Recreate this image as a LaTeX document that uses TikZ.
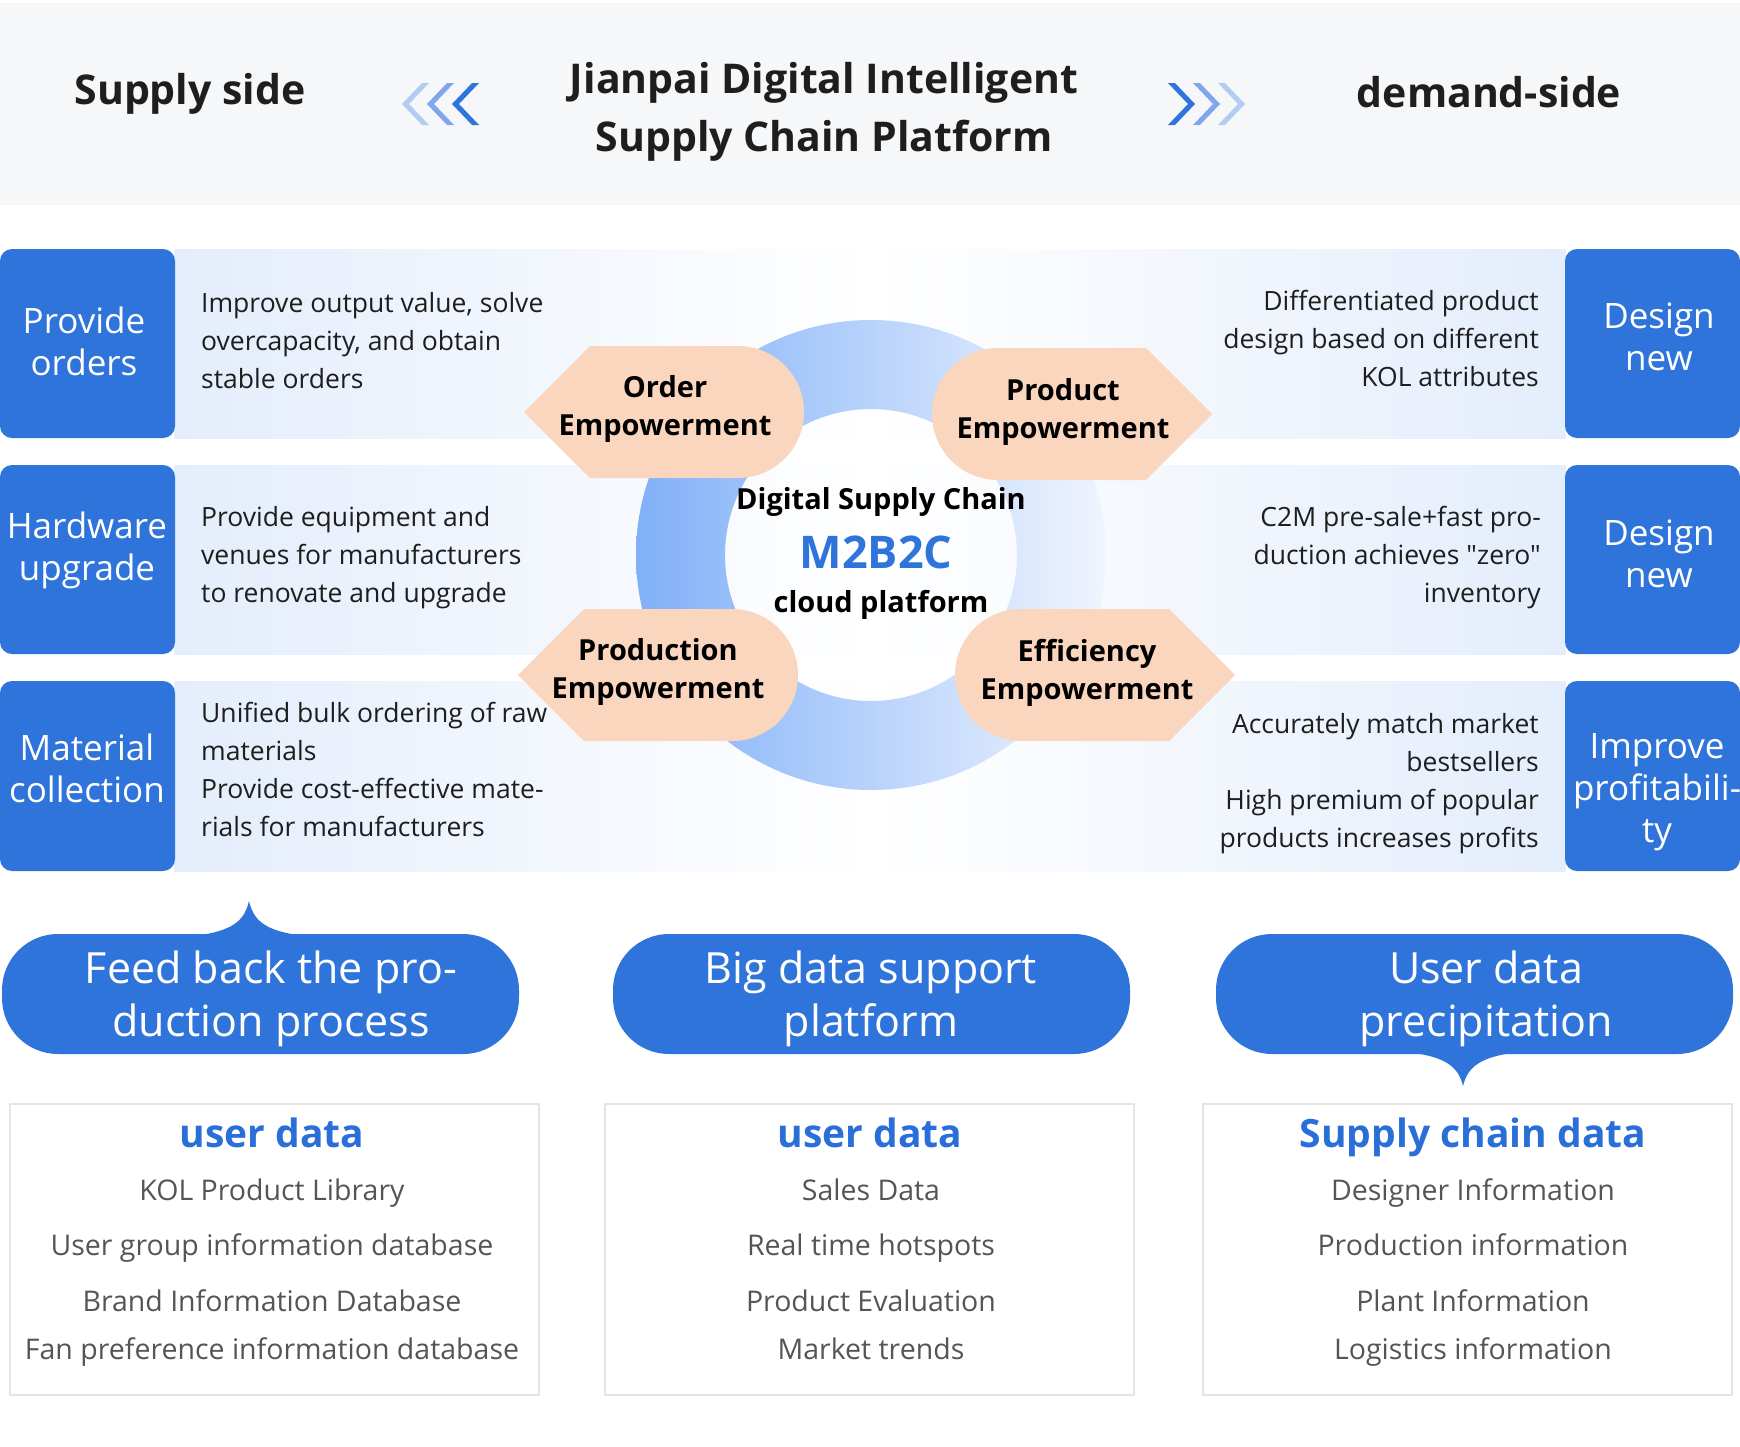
\documentclass[tikz,border=0pt]{standalone}
\usepackage{fontspec}
\setmainfont{Open Sans}
\newfontfamily\plainquote{Open Sans}[Ligatures=TeXOff]
\usepackage{tikz}
\usetikzlibrary{arrows.meta,positioning,calc}
\definecolor{BoxBlue}{RGB}{47,116,219}
\definecolor{HeadBlue}{RGB}{42,110,216}
\definecolor{RingBlue}{RGB}{128,176,248}
\definecolor{RingPale}{RGB}{240,245,254}
\definecolor{PeachColor}{RGB}{251,214,190}
\definecolor{BandColor}{RGB}{228,237,251}
\definecolor{HeaderGray}{RGB}{246,247,249}
\definecolor{DarkText}{RGB}{30,30,30}
\definecolor{ItemGray}{RGB}{85,85,85}
\definecolor{BorderGray}{RGB}{228,228,228}
\definecolor{ChevPale}{RGB}{178,204,244}
\definecolor{ChevMid}{RGB}{128,166,236}
\tikzset{
  sidebox/.style={fill=BoxBlue, rounded corners=12pt},
  sidetext/.style={text=white, align=center, font=\fontsize{35}{42}\selectfont},
  desctext/.style={text=DarkText, inner sep=0pt, font=\fontsize{26.5}{38}\selectfont},
  headtext/.style={text=DarkText, align=center, font=\bfseries\fontsize{41}{58}\selectfont},
  emptext/.style={text=black, align=center, font=\bfseries\fontsize{29}{38}\selectfont},
  emptyshape/.style={fill=PeachColor},
  bubble/.style={fill=BoxBlue, rounded corners=56pt},
  bubbletext/.style={text=white, align=center, font=\fontsize{43}{53}\selectfont},
  databox/.style={draw=BorderGray, line width=2pt},
  datahead/.style={text=HeadBlue, anchor=base, font=\bfseries\fontsize{39}{44}\selectfont},
  dataitem/.style={text=ItemGray, anchor=base, font=\fontsize{28.5}{32}\selectfont},
}

\begin{document}
\begin{tikzpicture}[x=1pt, y=-1pt]
      \useasboundingbox (0,0) rectangle (1740,1446);
      \fill[white] (0,0) rectangle (1740,1446);
      \fill[HeaderGray] (0,3) rectangle (1740,205);

      \node[headtext] (sup) at (190,94) {Supply side};
      \node[headtext] (ttl) at (824,112) {Jianpai Digital Intelligent\\Supply Chain Platform};
      \node[headtext] (dem) at (1489,92) {demand-side};

      \fill[ChevPale] (402,104) -- (422,83) -- (429,83) -- (409,104) -- (429,125) -- (422,125) -- cycle;
      \fill[ChevMid] (427,104) -- (447,83) -- (454,83) -- (434,104) -- (454,125) -- (447,125) -- cycle;
      \fill[BoxBlue] (452,104) -- (472,83) -- (479,83) -- (459,104) -- (479,125) -- (472,125) -- cycle;
      \fill[BoxBlue] (1195,104) -- (1175,83) -- (1168,83) -- (1188,104) -- (1168,125) -- (1175,125) -- cycle;
      \fill[ChevMid] (1220,104) -- (1200,83) -- (1193,83) -- (1213,104) -- (1193,125) -- (1200,125) -- cycle;
      \fill[ChevPale] (1245,104) -- (1225,83) -- (1218,83) -- (1238,104) -- (1218,125) -- (1225,125) -- cycle;

      \shade[left color=BandColor, right color=white] (174,249) rectangle (871,438);
      \shade[left color=BandColor, right color=white] (174,465) rectangle (871,654);
      \shade[left color=BandColor, right color=white] (174,681) rectangle (871,871);
      \shade[left color=white, right color=BandColor] (871,249) rectangle (1566,438);
      \shade[left color=white, right color=BandColor] (871,465) rectangle (1566,654);
      \shade[left color=white, right color=BandColor] (871,681) rectangle (1566,871);

      \fill[sidebox] (0,249) rectangle (175,438);
      \fill[sidebox] (0,465) rectangle (175,654);
      \fill[sidebox] (0,681) rectangle (175,871);
      \fill[sidebox] (1565,249) rectangle (1740,438);
      \fill[sidebox] (1565,465) rectangle (1740,654);
      \fill[sidebox] (1565,681) rectangle (1740,871);

      \node[sidetext] (po) at (84,341) {Provide\\orders};
      \node[sidetext] (hu) at (87,550) {Hardware\\upgrade};
      \node[sidetext] (mc) at (87,768) {Material\\collection};
      \node[sidetext] (dn1) at (1659,337) {Design\\new};
      \node[sidetext] (dn2) at (1659,554) {Design\\new};
      \node[sidetext] (ip) at (1657,792) {Improve\\profitabili-\\ty};

      \node[desctext, anchor=west, align=left] (d1) at (201,341) {Improve output value, solve\\overcapacity, and obtain\\stable orders};
      \node[desctext, anchor=west, align=left] (d2) at (201,558) {Provide equipment and\\venues for manufacturers\\to renovate and upgrade};
      \node[desctext, anchor=west, align=left] (d3) at (201,769) {Unified bulk ordering of raw\\materials\\Provide cost-effective mate-\\rials for manufacturers};
      \node[desctext, anchor=east, align=right] (d4) at (1539,338) {Differentiated product\\design based on different\\KOL attributes};
      \node[desctext, anchor=east, align=right] (d5) at (1541,558) {C2M pre-sale+fast pro-\\duction achieves {\plainquote"zero"}\\inventory};
      \node[desctext, anchor=east, align=right] (d6) at (1539,784) {Accurately match market\\bestsellers\\High premium of popular\\products increases profits};

      \shade[left color=RingBlue, right color=RingPale, even odd rule] (871,555) circle[radius=235] (871,555) circle[radius=146];

      \fill[emptyshape] (524,412) -- (590,346) -- (738,346) arc[start angle=-90, end angle=90, radius=66] -- (590,478) -- cycle;
      \fill[emptyshape] (1212,414) -- (1146,348) -- (998,348) arc[start angle=-90, end angle=-270, radius=66] -- (1146,480) -- cycle;
      \fill[emptyshape] (518,675) -- (584,609) -- (732,609) arc[start angle=-90, end angle=90, radius=66] -- (584,741) -- cycle;
      \fill[emptyshape] (1235,675) -- (1169,609) -- (1021,609) arc[start angle=-90, end angle=-270, radius=66] -- (1169,741) -- cycle;

      \node[emptext] (oe) at (665,409) {Order\\Empowerment};
      \node[emptext] (pe) at (1063,412) {Product\\Empowerment};
      \node[emptext] (pre) at (658,672) {Production\\Empowerment};
      \node[emptext] (ee) at (1087,673) {Efficiency\\Empowerment};

      \node[emptext] (dsc) at (881,502) {Digital Supply Chain};
      \node[text=BoxBlue, font=\bfseries\fontsize{45}{50}\selectfont] (mbc) at (876,552) {M2B2C};
      \node[emptext] (cp) at (881,605) {cloud platform};

      \fill[bubble] (2,934) rectangle (519,1054);
      \fill[BoxBlue] (200,935) .. controls (236,930) and (245,918) .. (249,901) .. controls (253,918) and (262,930) .. (298,935) -- cycle;
      \fill[bubble] (613,934) rectangle (1130,1054);
      \fill[bubble] (1216,934) rectangle (1733,1054);
      \fill[BoxBlue] (1414,1053) .. controls (1450,1058) and (1459,1070) .. (1463,1086) .. controls (1467,1070) and (1476,1058) .. (1512,1053) -- cycle;

      \node[bubbletext] (fb) at (271,999) {Feed back the pro-\\duction process};
      \node[bubbletext] (bd) at (871,999) {Big data support\\platform};
      \node[bubbletext] (ud) at (1486,999) {User data\\precipitation};

      \draw[databox] (10,1104) rectangle (539,1395);
      \draw[databox] (605,1104) rectangle (1134,1395);
      \draw[databox] (1203,1104) rectangle (1732,1395);

      \node[datahead] (h1) at (272,1147) {user data};
      \node[dataitem] (a1) at (272,1200) {KOL Product Library};
      \node[dataitem] (a2) at (272,1255) {User group information database};
      \node[dataitem] (a3) at (272,1311) {Brand Information Database};
      \node[dataitem] (a4) at (272,1359) {Fan preference information database};

      \node[datahead] (h2) at (870,1147) {user data};
      \node[dataitem] (b1) at (871,1200) {Sales Data};
      \node[dataitem] (b2) at (871,1255) {Real time hotspots};
      \node[dataitem] (b3) at (871,1311) {Product Evaluation};
      \node[dataitem] (b4) at (871,1359) {Market trends};

      \node[datahead] (h3) at (1473,1147) {Supply chain data};
      \node[dataitem] (c1) at (1473,1200) {Designer Information};
      \node[dataitem] (c2) at (1473,1255) {Production information};
      \node[dataitem] (c3) at (1473,1311) {Plant Information};
      \node[dataitem] (c4) at (1473,1359) {Logistics information};
    \end{tikzpicture}
\end{document}
